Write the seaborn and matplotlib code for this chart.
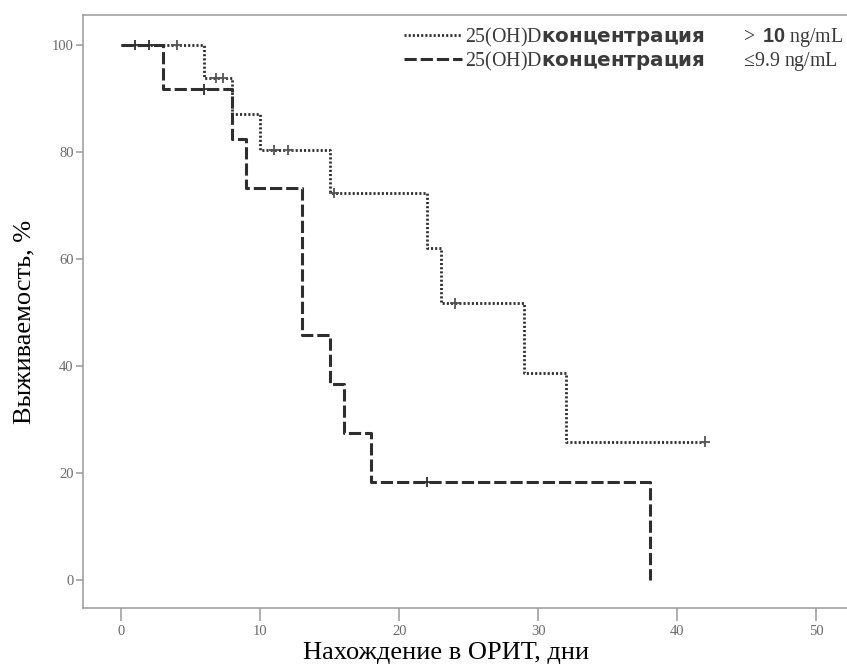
import pandas as pd
import matplotlib
matplotlib.use("Agg")
import matplotlib.pyplot as plt
import seaborn as sns

# --- DATA ---
# Kaplan-Meier steps, group "> 10 ng/mL" (dotted)
hi_time = [0, 6, 8, 10, 15, 22, 23, 29, 32, 42]
hi_surv = [100, 93.8, 87.1, 80.4, 72.4, 62.0, 51.7, 38.8, 25.9, 25.9]
hi_cens_time = [4, 6.8, 7.3, 11, 12, 15.3, 24, 42]
hi_cens_surv = [100, 93.8, 93.8, 80.4, 80.4, 72.4, 51.7, 25.9]

# group "<=9.9 ng/mL" (dashed)
lo_time = [0, 3, 8, 9, 13, 15, 16, 18, 38]
lo_surv = [100, 91.7, 82.5, 73.3, 45.8, 36.7, 27.5, 18.3, 0]
lo_cens_time = [1, 2, 6, 22]
lo_cens_surv = [100, 100, 91.7, 18.3]

x_ticks = [0, 10, 20, 30, 40, 50]
y_ticks = [0, 20, 40, 60, 80, 100]

label_hi = r"25(OH)D$\mathsf{концентрация}\hspace{2.0}$>$\hspace{0.4}\mathbf{10}$ ng/mL"
label_lo = r"25(OH)D$\mathsf{концентрация}\hspace{2.0}$≤9.9 ng/mL"

# --- STYLE ---
sns.set_style("white")
plt.rcParams['font.family'] = ['Liberation Serif', 'DejaVu Serif']
plt.rcParams.update({'mathtext.fontset': 'custom',
                     'mathtext.rm': 'Liberation Serif',
                     'mathtext.sf': 'DejaVu Sans:bold',
                     'mathtext.bf': 'Liberation Sans:bold'})

INK = '#2e2e2e'
GRID = '#9a9a9a'

steps = pd.concat([
    pd.DataFrame({'time': hi_time, 'surv': hi_surv, 'group': 'hi'}),
    pd.DataFrame({'time': lo_time, 'surv': lo_surv, 'group': 'lo'}),
], ignore_index=True)
cens = pd.concat([
    pd.DataFrame({'time': hi_cens_time, 'surv': hi_cens_surv, 'group': 'hi'}),
    pd.DataFrame({'time': lo_cens_time, 'surv': lo_cens_surv, 'group': 'lo'}),
], ignore_index=True)

fig = plt.figure(figsize=(8.47, 6.69), dpi=100)
ax = fig.add_axes([83.3 / 847, 1 - 608 / 669, 1 - 83.3 / 847, (608 - 15) / 669])

sns.lineplot(data=steps, x='time', y='surv', hue='group', style='group', size='group',
             palette={'hi': INK, 'lo': INK}, dashes={'hi': (0.75, 0.75), 'lo': (4, 1.3)},
             sizes={'hi': 2.0, 'lo': 2.2}, drawstyle='steps-post', estimator=None,
             sort=False, legend=False, ax=ax)
sns.scatterplot(data=cens, x='time', y='surv', hue='group', palette={'hi': '#555555', 'lo': INK},
                marker='+', s=55, linewidth=1.3, legend=False, ax=ax, zorder=3)

ax.set_xlim(-2.71, 52.2)
ax.set_ylim(-5.2, 105.6)
ax.set_xticks(x_ticks)
ax.set_yticks(y_ticks)
ax.tick_params(axis='x', length=9, width=1.1, color=GRID, pad=3, labelsize=10.5, labelcolor='#6a6a6a', bottom=True)
ax.tick_params(axis='y', length=5, width=1.1, color=GRID, pad=2, labelsize=10.5, labelcolor='#6a6a6a', left=True)
for side in ['left', 'bottom', 'top']:
    ax.spines[side].set_color(GRID)
    ax.spines[side].set_linewidth(1.1)
ax.spines['right'].set_visible(False)

ax.set_xlabel('Нахождение в ОРИТ, дни', fontsize=19, color='black')
ax.set_ylabel('Выживаемость, %', fontsize=19, color='black')
ax.xaxis.set_label_coords(0.475, -0.057)
ax.yaxis.set_label_coords(-0.063, 0.482)

handles = ax.get_lines()[:2]
ax.legend(handles, [label_hi, label_lo], loc='upper right', bbox_to_anchor=(843 / 847, 1 - 25 / 669),
          bbox_transform=fig.transFigure, frameon=False, fontsize=14.3, handlelength=2.9,
          handletextpad=0.15, borderaxespad=0, borderpad=0, labelspacing=0.0,
          labelcolor='#3a3a3a')

fig.savefig('out.png', dpi=100)
